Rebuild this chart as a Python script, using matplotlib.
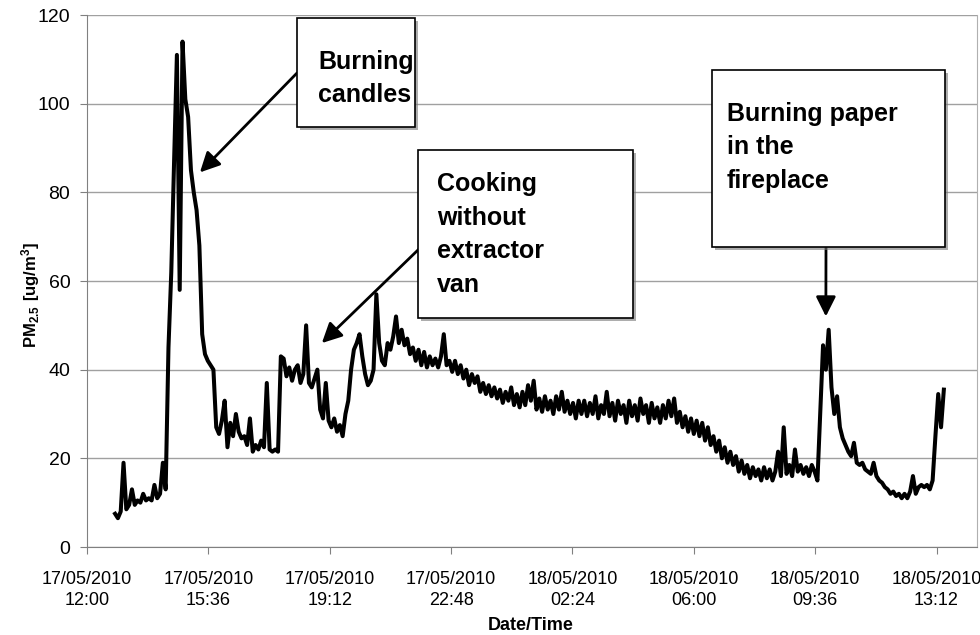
import matplotlib
matplotlib.use('Agg')
import matplotlib.pyplot as plt
import matplotlib.dates as mdates
import matplotlib.patheffects as pe
from matplotlib.patches import Rectangle
import pandas as pd

plt.rcParams['font.family'] = ['Liberation Sans', 'DejaVu Sans']
plt.rcParams['mathtext.fontset'] = 'custom'
plt.rcParams['mathtext.rm'] = 'Liberation Sans'
plt.rcParams['mathtext.bf'] = 'Liberation Sans:bold'

# ---------------- data ----------------
start_time = '2010-05-17 12:50'
sample_minutes = 5
pm25 = [
    7.5, 6.5, 8, 19, 8.5, 9.5, 13, 9.5, 10.5, 10,
    12, 10.5, 11, 10.5, 14, 11, 12, 19, 13, 45,
    62, 87, 111, 58, 114, 101, 97, 85, 80, 76,
    68, 48, 43.5, 42, 41, 40, 27, 25.5, 28.5, 33,
    22.5, 28, 25, 30, 26, 24.5, 25, 23, 29, 21.5,
    23, 22, 24, 22.5, 37, 22, 21.5, 22, 21.5, 43,
    42.5, 38.5, 40.5, 37.5, 40, 41, 37, 39, 50, 37,
    36, 38, 40, 31, 29, 37, 28.5, 27, 29, 26,
    27.5, 25, 30, 33, 40, 44.5, 46, 48, 43, 39,
    36.5, 37.5, 40, 57, 46, 42, 41, 46, 44.5, 47.5,
    52, 46, 49, 45.5, 47, 43.5, 45, 42, 44.5, 41,
    44, 40.5, 43, 41, 42.5, 40.5, 43, 48, 41, 42,
    39.5, 42, 39, 41, 38, 40, 36.5, 39, 37, 38.5,
    35, 37, 34.5, 36.5, 34, 36, 33.5, 35.5, 32.5, 35,
    33, 36, 32, 34.5, 31.5, 35, 32, 36.5, 33, 37.5,
    31, 33.5, 30.5, 34, 31, 33, 30, 34, 31, 35,
    30.5, 33, 30, 32.5, 29, 33, 30, 33, 29.5, 32.5,
    30, 34, 29, 32, 30, 35, 29.5, 32.5, 28.5, 33,
    30, 32, 28, 33, 29.5, 32, 28.5, 33.5, 30, 32,
    28, 32.5, 29, 31.5, 28, 32, 29, 33, 29.5, 33.5,
    28, 30.5, 27, 29.5, 26, 29, 25.5, 28.5, 25, 28,
    24, 27, 23, 25, 21.5, 24, 20, 22.5, 19, 21.5,
    18.5, 20.5, 17, 19.5, 16.5, 18.5, 15.5, 18, 16, 17.5,
    15, 18, 15.5, 17.5, 15, 17, 21.5, 16, 27, 16.5,
    18.5, 16, 22, 17, 18.5, 16.5, 18, 16, 18.5, 17,
    15, 30, 45.5, 40, 49, 36, 30, 34, 27, 24.5,
    23, 21.5, 20.5, 23.5, 19, 18.5, 19, 17.5, 17, 16.5,
    19, 16, 15, 14.5, 13.5, 13, 12, 12.5, 11.5, 12,
    11, 12, 11, 12.5, 16, 12, 13.5, 14, 13.5, 14,
    13, 15, 25, 34.5, 27, 35.5,
]

axis_start = '2010-05-17 12:00'
axis_end = '2010-05-18 14:24'
tick_times = ['2010-05-17 12:00', '2010-05-17 15:36', '2010-05-17 19:12',
              '2010-05-17 22:48', '2010-05-18 02:24', '2010-05-18 06:00',
              '2010-05-18 09:36', '2010-05-18 13:12']
tick_labels = ['17/05/2010\n12:00', '17/05/2010\n15:36', '17/05/2010\n19:12',
               '17/05/2010\n22:48', '18/05/2010\n02:24', '18/05/2010\n06:00',
               '18/05/2010\n09:36', '18/05/2010\n13:12']
y_ticks = [0, 20, 40, 60, 80, 100, 120]

# annotations: text, arrow tip (time, value)
notes = [
    ('Burning\ncandles', '2010-05-17 15:21', 84.5),
    ('Cooking\nwithout\nextractor\nvan', '2010-05-17 18:58', 46),
    ('Burning paper\nin the\nfireplace', '2010-05-18 09:55', 52),
]

# ---------------- figure ----------------
W, H = 980, 635
fig = plt.figure(figsize=(W / 100, H / 100), dpi=100)
ax = fig.add_axes([87 / W, 88 / H, 890 / W, 532 / H])

times = pd.date_range(start_time, periods=len(pm25), freq=f'{sample_minutes}min')
ax.plot(times, pm25, color='black', lw=2.9, zorder=3)

ax.set_xlim(pd.Timestamp(axis_start), pd.Timestamp(axis_end))
ax.set_ylim(0, 120)
ax.set_yticks(y_ticks)
ax.set_xticks([pd.Timestamp(t) for t in tick_times])
ax.set_xticklabels(tick_labels)
for lbl in ax.get_xticklabels():
    lbl.set_linespacing(1.35)

ax.yaxis.grid(True, color='#a0a0a0', lw=1)
ax.set_axisbelow(True)
ax.tick_params(axis='both', direction='out', color='#808080', length=5)
ax.tick_params(axis='y', pad=7, labelsize=14)
ax.tick_params(axis='x', pad=12, labelsize=13)
for s in ['left', 'bottom']:
    ax.spines[s].set_color('#808080')
ax.spines['right'].set_color('#b0b0b0')
ax.spines['top'].set_visible(False)

fig.text(31 / W, 1 - 295 / H, r'$\mathbf{PM_{2.5}\ [ug/m^3]}$', rotation=90,
         ha='center', va='center', fontsize=12)
fig.text(531 / W, 1 - 625 / H, 'Date/Time', ha='center', va='center',
         fontsize=13, fontweight='bold')


def fp(x, y):
    return (x / W, 1 - y / H)


boxes = [(297, 18, 415, 127), (418, 150, 633, 318), (712, 70, 945, 247)]
text_pos = [(318, 50), (437, 172), (727, 102)]
tails = [(297, 73), (419, 249), (826, 247)]

for (txt, tt, tv), (x0, y0, x1, y1), (tx, ty), tail in zip(notes, boxes, text_pos, tails):
    ax.annotate('', xy=(mdates.date2num(pd.Timestamp(tt)), tv), xycoords='data',
                xytext=fp(*tail), textcoords='figure fraction',
                arrowprops=dict(arrowstyle='-|>,head_length=0.6,head_width=0.3',
                                color='black', lw=2, mutation_scale=20,
                                shrinkA=0, shrinkB=0), zorder=4)
    r = Rectangle(fp(x0, y1), (x1 - x0) / W, (y1 - y0) / H, transform=fig.transFigure,
                  fc='white', ec='black', lw=1.2, zorder=5, clip_on=False)
    r.set_path_effects([pe.SimplePatchShadow(offset=(2, -2), shadow_rgbFace='#777777', alpha=0.6),
                        pe.Normal()])
    ax.add_patch(r)
    ax.text(*fp(tx, ty), txt, transform=fig.transFigure, ha='left', va='top',
            fontsize=18, fontweight='bold', linespacing=1.5, zorder=6)

fig.savefig('out.png', dpi=100)
